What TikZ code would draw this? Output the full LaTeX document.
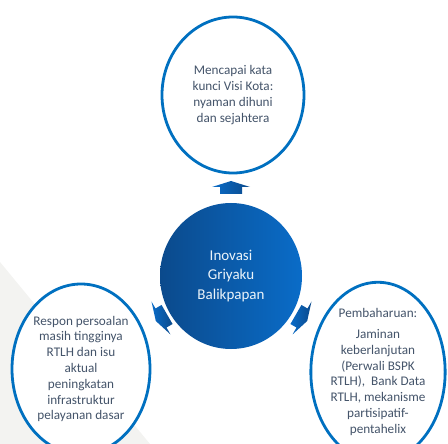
\documentclass[tikz,border=0pt]{standalone}
\usepackage{fontspec}
\setmainfont{Carlito}
\usetikzlibrary{shapes.geometric}
\definecolor{ringblue}{HTML}{0070C0}
\definecolor{hubdark}{HTML}{0B4A8C}
\definecolor{hublight}{HTML}{0A6CC8}
\definecolor{txtgray}{HTML}{44546A}
\definecolor{slidegray}{HTML}{F3F3F1}

\begin{document}
\begin{tikzpicture}[x=1pt, y=-1pt,
    ring/.style={ellipse, draw=ringblue, line width=2.8pt, fill=white, inner sep=0pt, align=center, text=txtgray, font=\fontsize{13.2}{15.8}\selectfont},
    hub/.style={ellipse, inner sep=0pt, left color=hubdark, right color=hublight, align=center, text=white!92!ringblue, font=\fontsize{15}{19.5}\selectfont},
    pointer/.style={left color=hublight, right color=hubdark},
]
    \useasboundingbox (0,0) rectangle (448,444);
    \clip (0,0) rectangle (448,444);

    % Slide background
    \fill[slidegray] (0,262) -- (150,444) -- (0,444) -- cycle;

    % Centre
    \node[hub, minimum width=142pt, minimum height=146pt] (hub) at (231,276) {Inovasi\\Griyaku\\Balikpapan};

    % Outer circles
    \node[ring, minimum width=142pt, minimum height=156pt] (visi) at (233,95) {Mencapai kata\\kunci Visi Kota:\\nyaman dihuni\\dan sejahtera};
    \node[ring, minimum width=138pt, minimum height=170pt] (respon) at (81,369) {Respon persoalan\\masih tingginya\\RTLH dan isu\\aktual\\peningkatan\\infrastruktur\\pelayanan dasar};
    \node[ring, minimum width=134pt, minimum height=168pt] (baru) at (378,372) {Pembaharuan:\\[5pt]Jaminan\\keberlanjutan\\(Perwali BSPK\\RTLH),~~Bank Data\\RTLH, mekanisme\\partisipatif-\\pentahelix};

    % Block arrows from the centre
    \foreach \ang/\px/\py in {90/231/187, 210/161/318, 330/302/318}
        \shade[pointer, shift={(\px,\py)}, rotate=\ang]
            (-7,-11) -- (0,-11) -- (0,-19) -- (6,0) -- (0,19) -- (0,11) -- (-7,11) -- cycle;
\end{tikzpicture}
\end{document}
